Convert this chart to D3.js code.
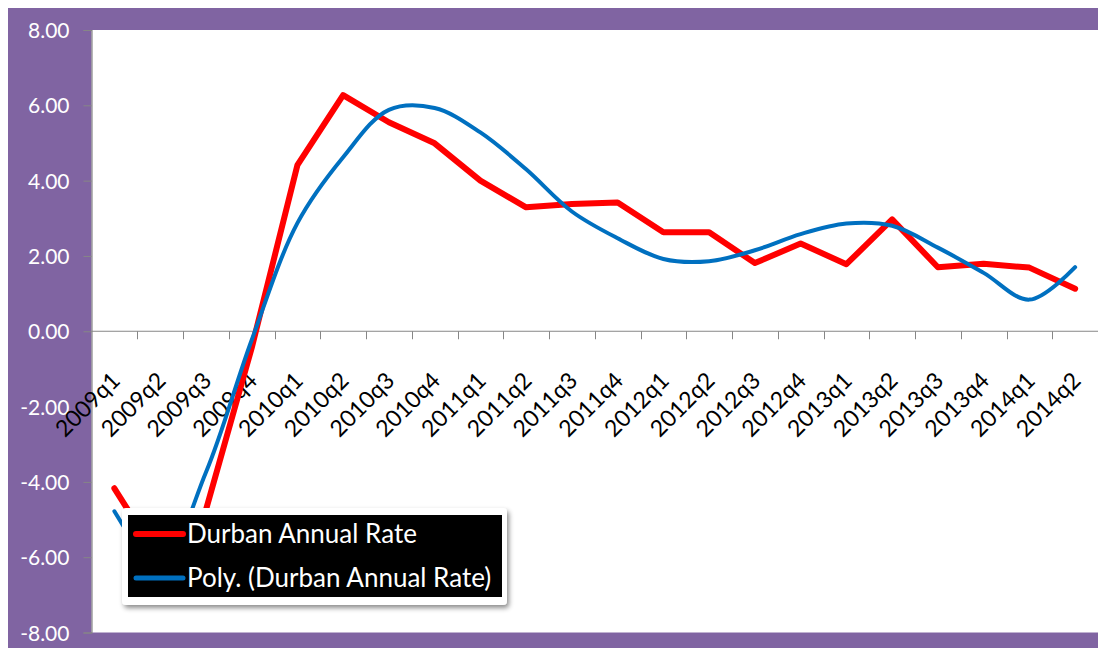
<!DOCTYPE html>
<html lang="en">
<head>
    <meta charset="UTF-8">
    <title>Durban Annual Rate</title>
    <style>
        body { margin: 0; background: #fff; }
        text { font-family: Lato, "Open Sans", sans-serif; }
    </style>
</head>
<body>
<script src="https://d3js.org/d3.v7.min.js"></script>

<div id="my_dataviz"></div>

<script>
// quarters on the x axis
var quarters = ["2009q1", "2009q2", "2009q3", "2009q4",
    "2010q1", "2010q2", "2010q3", "2010q4",
    "2011q1", "2011q2", "2011q3", "2011q4",
    "2012q1", "2012q2", "2012q3", "2012q4",
    "2013q1", "2013q2", "2013q3", "2013q4",
    "2014q1", "2014q2"];

// Durban Annual Rate (red)
var annualRate = [-4.17, -6.1, -4.75, -0.45, 4.41, 6.27, 5.55, 4.99,
    4.0, 3.29, 3.38, 3.42, 2.63, 2.63, 1.81, 2.33,
    1.78, 2.97, 1.70, 1.79, 1.69, 1.13];

// Poly. (Durban Annual Rate) trendline (blue)
var polyTrend = [-4.78, -6.2, -3.75, -0.24, 2.87, 4.62, 5.88, 5.93,
    5.28, 4.3, 3.18, 2.47, 1.92, 1.86, 2.15, 2.58,
    2.86, 2.8, 2.22, 1.55, 0.84, 1.7];

var yTicks = [8, 6, 4, 2, 0, -2, -4, -6, -8];

var seriesNames = ["Durban Annual Rate", "Poly. (Durban Annual Rate)"];

var W = 1098, H = 648;
var plot = { left: 91.5, top: 30, right: 1098, bottom: 632.5 };

var svg = d3.select("#my_dataviz")
    .append("svg")
    .attr("width", W)
    .attr("height", H)
    .style("display", "block");

// filter for legend shadow
var defs = svg.append("defs");
defs.append("filter")
    .attr("id", "shadow")
    .attr("x", "-10%").attr("y", "-20%")
    .attr("width", "130%").attr("height", "160%")
    .append("feDropShadow")
    .attr("dx", 2).attr("dy", 3)
    .attr("stdDeviation", 2.5)
    .attr("flood-color", "#000")
    .attr("flood-opacity", 0.45);

// purple frame
svg.append("rect")
    .attr("x", 8).attr("y", 8)
    .attr("width", W - 8).attr("height", H - 8)
    .attr("fill", "#8064A2");

// white plot area
svg.append("rect")
    .attr("x", plot.left).attr("y", plot.top)
    .attr("width", plot.right - plot.left)
    .attr("height", plot.bottom - plot.top)
    .attr("fill", "#fff");

var x = d3.scaleBand()
    .domain(quarters)
    .range([plot.left, plot.right])
    .padding(0);

var y = d3.scaleLinear()
    .domain([-8, 8])
    .range([plot.bottom, plot.top]);

function cx(q) { return x(q) + x.bandwidth() / 2; }

// plain hyphen for negatives, like the original
var fmt = function(d) { return d3.format(".2f")(d).replace("\u2212", "-"); };

// y axis
var yAxis = svg.append("g")
    .attr("transform", "translate(" + plot.left + ",0)")
    .call(d3.axisLeft(y).tickValues(yTicks).tickSize(8).tickPadding(14)
        .tickFormat(fmt));
yAxis.select(".domain").attr("stroke", "#868686").attr("stroke-width", 1.2);
yAxis.selectAll(".tick line").attr("stroke", "#868686");
yAxis.selectAll(".tick text")
    .attr("fill", "#fff")
    .style("font-size", "21px")
    .attr("dy", "0.36em");

// x axis along zero
var xAxis = svg.append("g")
    .attr("transform", "translate(0," + y(0) + ")");
xAxis.append("line")
    .attr("x1", plot.left).attr("x2", plot.right)
    .attr("y1", 0).attr("y2", 0)
    .attr("stroke", "#868686")
    .attr("stroke-width", 1.2);
xAxis.selectAll("tickmarks")
    .data(quarters.slice(1))
    .enter()
    .append("line")
    .attr("x1", function(d) { return Math.round(x(d)) + 0.5; })
    .attr("x2", function(d) { return Math.round(x(d)) + 0.5; })
    .attr("y1", 0).attr("y2", 8)
    .attr("stroke", "#868686");

// rotated quarter labels
svg.selectAll("xlabels")
    .data(quarters)
    .enter()
    .append("text")
    .attr("transform", function(d) {
        return "translate(" + (cx(d) + 7) + "," + 382 + ") rotate(-45)";
    })
    .attr("text-anchor", "end")
    .style("font-size", "23px")
    .attr("fill", "#000")
    .text(function(d) { return d; });

// lines
var lineGen = d3.line()
    .x(function(d, i) { return cx(quarters[i]); })
    .y(function(d) { return y(d); });

var curveGen = d3.line()
    .x(function(d, i) { return cx(quarters[i]); })
    .y(function(d) { return y(d); })
    .curve(d3.curveCatmullRom.alpha(0.5));

svg.append("path")
    .datum(annualRate)
    .attr("d", lineGen)
    .attr("fill", "none")
    .attr("stroke", "#FF0000")
    .attr("stroke-width", 6)
    .attr("stroke-linejoin", "round")
    .attr("stroke-linecap", "round");

svg.append("path")
    .datum(polyTrend)
    .attr("d", curveGen)
    .attr("fill", "none")
    .attr("stroke", "#0070C0")
    .attr("stroke-width", 4)
    .attr("stroke-linecap", "round");

// legend
var legend = svg.append("g");
legend.append("rect")
    .attr("x", 122).attr("y", 508)
    .attr("width", 385).attr("height", 97)
    .attr("rx", 4)
    .attr("fill", "#fff")
    .attr("filter", "url(#shadow)");
legend.append("rect")
    .attr("x", 128).attr("y", 515)
    .attr("width", 374).attr("height", 82)
    .attr("fill", "#000");

var legendColors = ["#FF0000", "#0070C0"];
var legendWidths = [6, 5];
var legendY = [534, 578];

legend.selectAll("legendlines")
    .data(seriesNames)
    .enter()
    .append("line")
    .attr("x1", 136).attr("x2", 183)
    .attr("y1", function(d, i) { return legendY[i]; })
    .attr("y2", function(d, i) { return legendY[i]; })
    .attr("stroke", function(d, i) { return legendColors[i]; })
    .attr("stroke-width", function(d, i) { return legendWidths[i]; })
    .attr("stroke-linecap", "round");

legend.selectAll("legendlabels")
    .data(seriesNames)
    .enter()
    .append("text")
    .attr("x", 187)
    .attr("y", function(d, i) { return legendY[i] + 9; })
    .attr("fill", "#fff")
    .style("font-size", "26px")
    .text(function(d) { return d; });
</script>
</body>
</html>
